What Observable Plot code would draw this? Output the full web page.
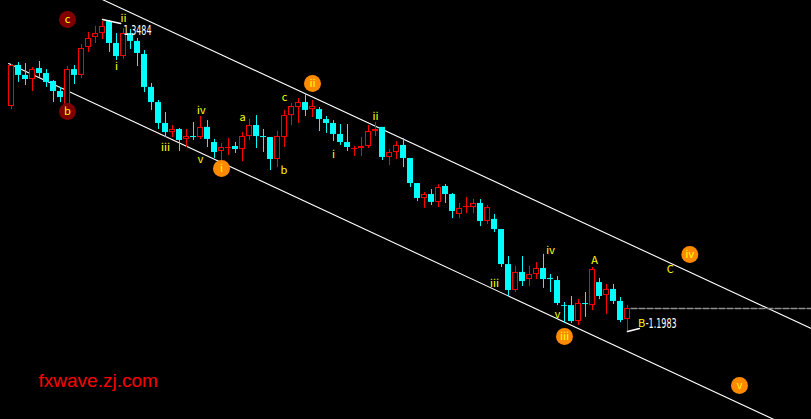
<!DOCTYPE html>
<html><head><meta charset="utf-8">
<script src="https://cdn.jsdelivr.net/npm/d3@7"></script>
<script src="https://cdn.jsdelivr.net/npm/@observablehq/plot@0.6"></script>
<style>html,body{margin:0;padding:0;background:#000;overflow:hidden}</style>
</head><body><div id="chart"></div>
<script>
// OHLC candles (EUR/USD style prices), one per bar index
const opens = [1.3069,1.3267,1.3219,1.3199,1.3252,1.3228,1.3190,1.3141,1.3069,1.3247,1.3219,1.3354,1.3402,1.3421,1.3479,1.3373,1.3310,1.3421,1.3383,1.3320,1.3161,1.3088,1.2987,1.2943,1.2958,1.2910,1.2924,1.2919,1.2968,1.2895,1.2852,1.2866,1.2876,1.2861,1.2924,1.2977,1.2924,1.2919,1.2813,1.2919,1.3025,1.3064,1.3088,1.3054,1.3054,1.3006,1.2987,1.2934,1.2895,1.2861,1.2866,1.2876,1.2948,1.2968,1.2823,1.2847,1.2881,1.2818,1.2697,1.2625,1.2644,1.2606,1.2683,1.2644,1.2548,1.2581,1.2581,1.2601,1.2514,1.2524,1.2475,1.2306,1.2181,1.2268,1.2234,1.2258,1.2287,1.2239,1.2229,1.2108,1.2108,1.2031,1.2118,1.2108,1.2219,1.2157,1.2186,1.2128,1.2041];
const highs = [1.3272,1.3281,1.3276,1.3257,1.3286,1.3247,1.3194,1.3161,1.3262,1.3267,1.3368,1.3426,1.3455,1.3479,1.3484,1.3421,1.3445,1.3441,1.3397,1.3339,1.3180,1.3098,1.3040,1.2977,1.2963,1.2958,1.2992,1.3021,1.3001,1.2910,1.2890,1.2914,1.2895,1.2943,1.3006,1.3025,1.2958,1.2919,1.2948,1.3050,1.3083,1.3108,1.3132,1.3098,1.3064,1.3021,1.3001,1.2982,1.2982,1.2876,1.2919,1.2977,1.2992,1.2968,1.2861,1.2900,1.2914,1.2818,1.2697,1.2654,1.2668,1.2692,1.2692,1.2649,1.2601,1.2630,1.2620,1.2620,1.2591,1.2548,1.2475,1.2345,1.2297,1.2345,1.2297,1.2316,1.2355,1.2258,1.2248,1.2123,1.2152,1.2137,1.2171,1.2292,1.2239,1.2210,1.2210,1.2147,1.2108];
const lows = [1.3054,1.3185,1.3170,1.3141,1.3209,1.3161,1.3088,1.3088,1.3050,1.3175,1.3204,1.3330,1.3373,1.3392,1.3330,1.3291,1.3296,1.3344,1.3262,1.3136,1.3050,1.2958,1.2919,1.2919,1.2852,1.2871,1.2905,1.2910,1.2871,1.2818,1.2799,1.2832,1.2842,1.2803,1.2905,1.2866,1.2847,1.2760,1.2774,1.2871,1.2977,1.2987,1.3021,1.3016,1.2948,1.2939,1.2900,1.2881,1.2852,1.2828,1.2828,1.2866,1.2924,1.2808,1.2784,1.2813,1.2774,1.2678,1.2610,1.2577,1.2591,1.2581,1.2601,1.2528,1.2528,1.2552,1.2552,1.2490,1.2499,1.2461,1.2292,1.2152,1.2171,1.2200,1.2200,1.2234,1.2191,1.2171,1.2108,1.2022,1.2022,1.2012,1.2051,1.2084,1.2137,1.2065,1.2113,1.2026,1.1983];
const closes = [1.3267,1.3219,1.3199,1.3247,1.3228,1.3185,1.3141,1.3112,1.3247,1.3219,1.3349,1.3397,1.3421,1.3455,1.3373,1.3310,1.3421,1.3383,1.3325,1.3161,1.3088,1.2987,1.2943,1.2958,1.2905,1.2924,1.2919,1.2968,1.2910,1.2847,1.2871,1.2871,1.2861,1.2924,1.2977,1.2924,1.2919,1.2813,1.2924,1.3025,1.3069,1.3088,1.3050,1.3069,1.3006,1.2987,1.2934,1.2895,1.2871,1.2866,1.2876,1.2948,1.2958,1.2823,1.2847,1.2881,1.2818,1.2697,1.2625,1.2644,1.2606,1.2678,1.2644,1.2562,1.2577,1.2586,1.2601,1.2514,1.2581,1.2475,1.2306,1.2181,1.2268,1.2224,1.2258,1.2287,1.2234,1.2234,1.2118,1.2104,1.2031,1.2118,1.2113,1.2282,1.2152,1.2186,1.2128,1.2036,1.2094];

// Channel lines (bar index, price)
const upperIdx = [-2, 116];
const upperPrice = [1.3820, 1.1970];
const lowerIdx = [-0.4, 116];
const lowerPrice = [1.3276, 1.1447];

// Wave labels (small yellow text)
const labelText = ["ⅱ","ⅰ","ⅲ","ⅳ","ⅴ","a","c","b","ⅰ","ⅱ","ⅲ","ⅳ","ⅴ","A","C","B"];
const labelIdx = [16,15,22,27.1,27,33,39,38.9,46,52,69,77,78,83.3,94.1,90];
const labelPrice = [1.3494,1.3262,1.2871,1.3050,1.2813,1.3016,1.3112,1.2760,1.2837,1.3021,1.2215,1.2374,1.2065,1.2326,1.2282,1.2022];

// Wave circles
const circleText = ["c","b","ⅰ","ⅱ","ⅲ","ⅳ","ⅴ"];
const circleIdx = [8,8,30,43,79,96.9,104];
const circlePrice = [1.3489,1.3045,1.2770,1.3180,1.1959,1.2355,1.1722];
const circleDegree = ["minor","minor","major","major","major","major","major"];

// Extremes
const extremeText = ["1.3484","-1.1983"];
const extremeIdx = [16,90.6];
const extremePrice = [1.3436,1.2022];
const hiLinkIdx = [13,15.6], hiLinkPrice = [1.3489,1.3470];
const loLinkIdx = [88,89.7], loLinkPrice = [1.1983,1.1997];
const lastPrice = 1.2094;
const lastIdx = [88.5, 116];

const candles = opens.map((o, i) => ({i, o, h: highs[i], l: lows[i], c: closes[i], up: closes[i] >= o}));
const upC = candles.filter(d => d.up);
const dnC = candles.filter(d => !d.up);
const half = 3 / 7;

const labels = labelText.map((t, k) => ({t, i: labelIdx[k], p: labelPrice[k]}));
const circles = circleText.map((t, k) => ({t, i: circleIdx[k], p: circlePrice[k], d: circleDegree[k]}));
const extremes = extremeText.map((t, k) => ({t, i: extremeIdx[k], p: extremePrice[k]}));
const line = (xs, ys) => xs.map((x, k) => ({x, y: ys[k]}));

const chart = Plot.plot({
  width: 811, height: 419,
  margin: 0,
  style: {background: "#000", overflow: "hidden"},
  x: {type: "linear", domain: [-11/7, 800/7], axis: null},
  y: {type: "linear", domain: [1.155824, 1.35805], axis: null},
  marks: [
    Plot.line(line(upperIdx, upperPrice), {x: "x", y: "y", stroke: "#fff", strokeWidth: 1.1, clip: true}),
    Plot.line(line(lowerIdx, lowerPrice), {x: "x", y: "y", stroke: "#fff", strokeWidth: 1.1, clip: true}),
    Plot.line(line(lastIdx, [lastPrice, lastPrice]), {x: "x", y: "y", stroke: "#8c8c8c", strokeDasharray: "6,2", clip: true}),
    Plot.ruleX(upC, {x: "i", y1: "l", y2: "h", stroke: "#ff0000"}),
    Plot.ruleX(dnC, {x: "i", y1: "l", y2: "h", stroke: "#00ffff"}),
    Plot.rect(dnC, {x1: d => d.i - half, x2: d => d.i + half, y1: "o", y2: "c", fill: "#00ffff"}),
    Plot.rect(upC, {x1: d => d.i - half, x2: d => d.i + half, y1: "o", y2: "c", fill: "#000", stroke: "#ff0000", strokeWidth: 1, inset: 0.5}),
    Plot.line(line(hiLinkIdx, hiLinkPrice), {x: "x", y: "y", stroke: "#fff"}),
    Plot.line(line(loLinkIdx, loLinkPrice), {x: "x", y: "y", stroke: "#fff"}),
    Plot.text(extremes, {x: "i", y: "p", text: "t", fill: "#fff", textAnchor: "start", fontSize: 14, fontFamily: "'Liberation Sans Narrow','DejaVu Sans Condensed',sans-serif"}),
    Plot.dot(circles, {x: "i", y: "p", r: 8.5, fill: d => d.d === "minor" ? "#800000" : "#ff8a00", stroke: "none"}),
    Plot.text(circles, {x: "i", y: "p", text: "t", fill: "#ffff00", fontSize: 11, fontFamily: "'Noto Sans CJK SC','DejaVu Sans',sans-serif"}),
    Plot.text(labels, {x: "i", y: "p", text: "t", fill: "#ffff00", fontSize: 11, fontFamily: "'Noto Sans CJK SC','DejaVu Sans',sans-serif"}),
    Plot.text(["fxwave.zj.com"], {frameAnchor: "top-left", dx: 38, dy: 373, text: d => d, fill: "#ff0000", fontSize: 19, textAnchor: "start", fontFamily: "'Liberation Sans',Arial,sans-serif"})
  ]
});
// condense the price labels like the terminal's narrow font
const narrow = {"1.3484": 28, "-1.1983": 31};
d3.select(chart).selectAll("text").each(function() {
  const w = narrow[this.textContent];
  if (w) { this.setAttribute("textLength", w); this.setAttribute("lengthAdjust", "spacingAndGlyphs"); }
});
document.getElementById("chart").appendChild(chart);
</script>
</body></html>
